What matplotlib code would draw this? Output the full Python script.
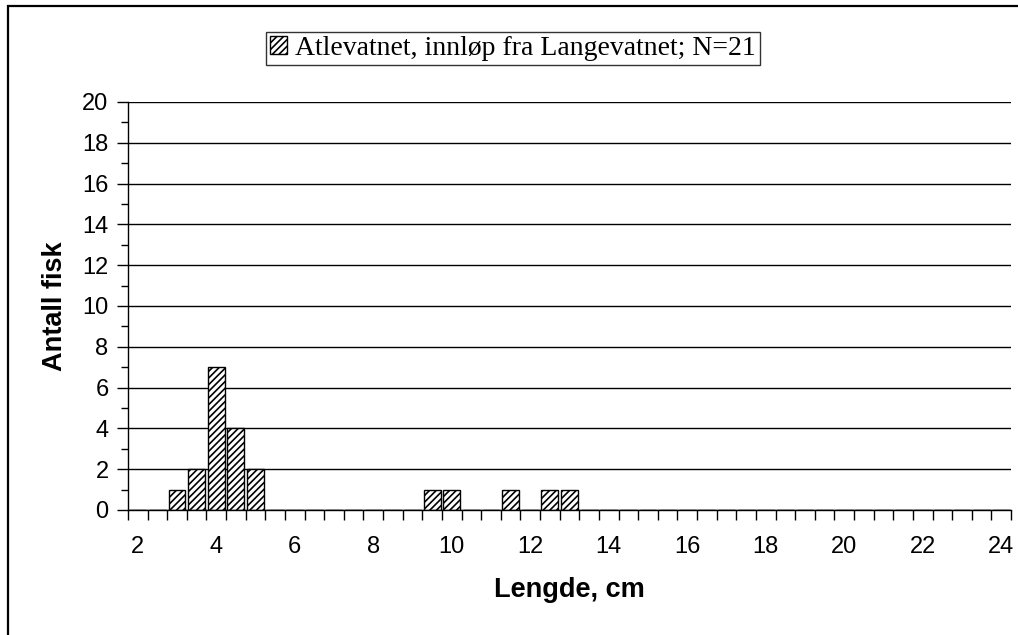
import matplotlib
matplotlib.use("Agg")
import matplotlib.pyplot as plt
from matplotlib.patches import Rectangle, Patch

# length classes (cm) and number of fish in each
lengths = [2, 2.5, 3, 3.5, 4, 4.5, 5, 5.5, 6, 6.5, 7, 7.5, 8, 8.5, 9, 9.5,
           10, 10.5, 11, 11.5, 12, 12.5, 13, 13.5, 14, 14.5, 15, 15.5, 16, 16.5,
           17, 17.5, 18, 18.5, 19, 19.5, 20, 20.5, 21, 21.5, 22, 22.5, 23, 23.5, 24]
counts = [0, 0, 1, 2, 7, 4, 2, 0, 0, 0, 0, 0, 0, 0, 0, 1,
          1, 0, 0, 1, 0, 1, 1, 0, 0, 0, 0, 0, 0, 0,
          0, 0, 0, 0, 0, 0, 0, 0, 0, 0, 0, 0, 0, 0, 0]
series_name = "Atlevatnet, innløp fra Langevatnet; N=21"

plt.rcParams['font.family'] = ['Liberation Sans', 'DejaVu Sans']
plt.rcParams['hatch.linewidth'] = 1.2

fig = plt.figure(figsize=(10.18, 6.35), dpi=100)
ax = fig.add_axes([128/1018, 1 - 510/635, (1011-128)/1018, (510-102)/635])

pos = list(range(len(lengths)))
ax.bar(pos, counts, width=0.86, color="white", edgecolor="black",
       linewidth=1.0, hatch="/////", zorder=3)

ax.set_xlim(-0.5, len(lengths) - 0.5)
ax.set_ylim(0, 20)

# category ticks at boundaries, labels every 4th class
ax.set_xticks([p - 0.5 for p in pos] + [len(lengths) - 0.5], minor=True)
label_pos = [p for p, v in zip(pos, lengths) if v == int(v) and int(v) % 2 == 0]
ax.set_xticks(label_pos)
ax.set_xticklabels([str(int(lengths[p])) for p in label_pos])
ax.tick_params(axis='x', which='major', length=0, pad=19, labelsize=17)
ax.tick_params(axis='x', which='minor', length=7, width=1, direction='out')

ax.set_yticks(range(0, 21, 2))
ax.set_yticks(range(1, 20, 2), minor=True)
ax.tick_params(axis='y', which='major', length=8, width=1, pad=6, labelsize=17)
ax.tick_params(axis='y', which='minor', length=5, width=1)

ax.grid(axis='y', which='major', color='black', linewidth=1, zorder=0)
ax.set_axisbelow(True)
for s in ['top', 'right']:
    ax.spines[s].set_visible(False)
for s in ['left', 'bottom']:
    ax.spines[s].set_linewidth(1)
    ax.spines[s].set_zorder(4)

fig.text(569/1018, 1 - 590/635, "Lengde, cm", ha='center', va='center',
         fontsize=19.5, fontweight='bold')
fig.text(55/1018, 1 - 306/635, "Antall fisk", ha='center', va='center',
         rotation=90, fontsize=19.5, fontweight='bold')

handle = Patch(facecolor='white', edgecolor='black', hatch='/////', linewidth=1)
leg = fig.legend([handle], [series_name], loc='center',
                 bbox_to_anchor=(513/1018, 1 - 48.5/635),
                 prop={'family': 'Liberation Serif', 'size': 20},
                 frameon=True, fancybox=False, edgecolor='black',
                 handlelength=0.6, handleheight=0.6, handletextpad=0.3,
                 borderpad=0.15, borderaxespad=0)
leg.get_frame().set_linewidth(1)

# outer chart frame
fig.patches.append(Rectangle((8/1018, -0.05), 1.1, 0.05 + 1 - 6/635,
                             transform=fig.transFigure, fill=False,
                             edgecolor='black', linewidth=1.6))

fig.savefig("out.png", dpi=100)
